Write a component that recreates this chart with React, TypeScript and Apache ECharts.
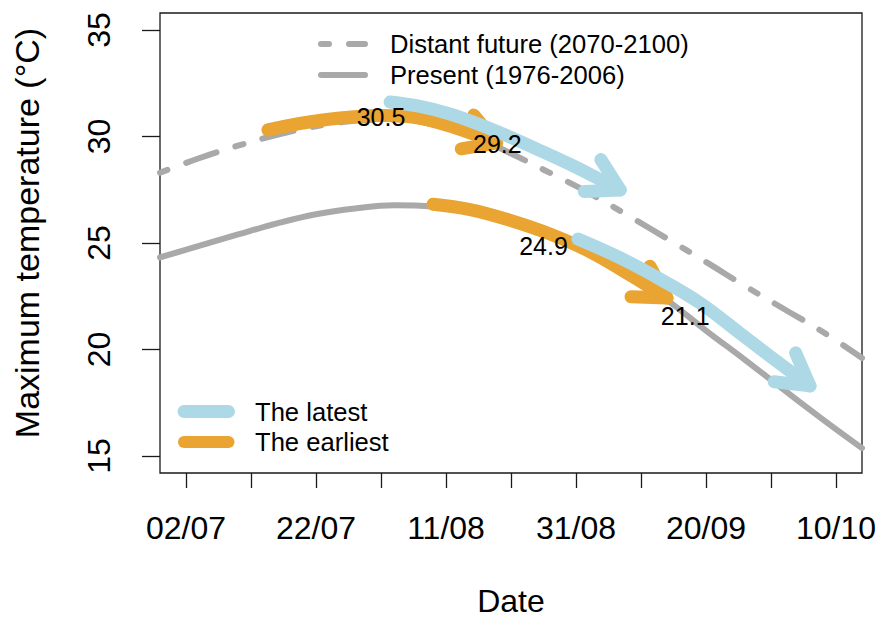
import React, { useEffect, useRef } from "react";
import * as echarts from "echarts";

const FONT = '"Liberation Sans", Arial, Helvetica, sans-serif';
const GRAY = "#A9A9A9";
const BLUE = "#ADD8E6";
const ORANGE = "#E9A431";

// x values are days counted from 02/07
const tickDays = [0, 10, 20, 30, 40, 50, 60, 70, 80, 90, 100];
const labelDays = [0, 20, 40, 60, 80, 100];
const dateLabels = ["02/07", "22/07", "11/08", "31/08", "20/09", "10/10"];
const tempTicks = [15, 20, 25, 30, 35];

const curveDays = [-4, 2, 8, 14, 20, 26, 32, 38, 44, 50, 56, 62, 68, 74, 80, 86, 92, 98, 104];
const presentTemps = [24.32, 24.86, 25.4, 25.92, 26.35, 26.62, 26.77, 26.71, 26.43, 25.98, 25.33, 24.51, 23.5, 22.32, 20.89, 19.51, 18.1, 16.71, 15.37];
const futureTemps = [28.3, 28.98, 29.57, 30.08, 30.48, 30.74, 30.8, 30.57, 30.05, 29.2, 28.29, 27.35, 26.29, 25.21, 24.11, 22.98, 21.9, 20.82, 19.6];

const earliestFutureDays = [12.6, 17.5, 23.7, 29.8, 34.5, 39.1, 43.7, 47.8];
const earliestFutureTemps = [30.31, 30.61, 30.87, 30.99, 30.92, 30.63, 30.17, 29.7];
const latestFutureDays = [31.4, 36.0, 40.6, 45.2, 49.8, 54.5, 59.1, 63.4, 66.8];
const latestFutureTemps = [31.62, 31.41, 31.06, 30.56, 29.98, 29.34, 28.69, 28.03, 27.49];
const earliestPresentDays = [38.0, 43.7, 49.8, 56.0, 62.2, 68.3, 74.0];
const earliestPresentTemps = [26.82, 26.57, 26.07, 25.42, 24.58, 23.5, 22.42];
const latestPresentDays = [60.3, 66.8, 72.9, 79.1, 85.2, 90.6, 96.0];
const latestPresentTemps = [25.19, 24.3, 23.31, 22.18, 20.77, 19.51, 18.29];

const annotationText = ["30.5", "29.2", "24.9", "21.1"];
const annotationDays = [30, 47.9, 55, 76.8];
const annotationTemps = [30.94, 29.65, 24.86, 21.57];

const zip = (a: number[], b: number[]) => a.map((v, i) => [v, b[i]]);

function arrowSeries(name: string, days: number[], temps: number[], color: string, z: number) {
  const pts = zip(days, temps);
  return {
    type: "custom",
    name,
    coordinateSystem: "cartesian2d",
    data: [pts[0]],
    encode: { x: 0, y: 1 },
    silent: true,
    z,
    renderItem: (_params: any, api: any) => {
      const px = pts.map((p) => api.coord(p));
      const n = px.length;
      const [tx, ty] = px[n - 1];
      const [sx, sy] = px[n - 2];
      const ang = Math.atan2(ty - sy, tx - sx) + Math.PI;
      const L = 36;
      const a = Math.PI / 6;
      const h1 = [tx + L * Math.cos(ang - a), ty + L * Math.sin(ang - a)];
      const h2 = [tx + L * Math.cos(ang + a), ty + L * Math.sin(ang + a)];
      const st = { stroke: color, lineWidth: 13, lineCap: "round", lineJoin: "round", fill: "none" };
      return {
        type: "group",
        children: [
          { type: "polyline", shape: { points: px, smooth: 0.4 }, style: st },
          { type: "polyline", shape: { points: [h1, [tx, ty], h2] }, style: st },
        ],
      };
    },
  };
}

export default function App() {
  const ref = useRef<HTMLDivElement>(null);
  useEffect(() => {
    if (!ref.current) return;
    const chart = echarts.init(ref.current, undefined, { renderer: "svg" });
    const option: any = {
      animation: false,
      textStyle: { fontFamily: FONT, color: "#000" },
      grid: {
        left: 160,
        right: 15,
        top: 13,
        bottom: 145,
        containLabel: false,
        outerBoundsMode: "none",
        show: true,
        borderColor: "#1a1a1a",
        borderWidth: 1.3,
        backgroundColor: "transparent",
      },
      xAxis: {
        type: "value",
        min: -4,
        max: 104,
        name: "Date",
        nameLocation: "middle",
        nameGap: 112,
        nameTextStyle: { fontSize: 32, fontFamily: FONT, color: "#000" },
        axisLine: { show: false, onZero: false },
        splitLine: { show: false },
        axisTick: {
          show: true,
          customValues: tickDays,
          length: 15,
          inside: false,
          lineStyle: { color: "#1a1a1a", width: 1.3 },
        },
        axisLabel: {
          customValues: labelDays,
          margin: 39,
          fontSize: 32,
          fontFamily: FONT,
          color: "#000",
          formatter: (v: number) => dateLabels[labelDays.indexOf(Math.round(v))] ?? "",
        },
      },
      yAxis: {
        type: "value",
        min: 14.2,
        max: 35.8,
        name: "Maximum temperature (°C)",
        nameLocation: "middle",
        nameGap: 116,
        nameTextStyle: { fontSize: 34, fontFamily: FONT, color: "#000", padding: [0, 0, 0, 20] },
        axisLine: { show: false, onZero: false },
        splitLine: { show: false },
        axisTick: {
          show: true,
          customValues: tempTicks,
          length: 18,
          inside: false,
          lineStyle: { color: "#1a1a1a", width: 1.3 },
        },
        axisLabel: {
          customValues: tempTicks,
          rotate: 90,
          margin: 45,
          fontSize: 32,
          fontFamily: FONT,
          color: "#000",
        },
      },
      series: [
        {
          type: "line",
          name: "Distant future (2070-2100)",
          data: zip(curveDays, futureTemps),
          smooth: 0.4,
          showSymbol: false,
          symbol: "none",
          silent: true,
          z: 2,
          lineStyle: { color: GRAY, width: 6, type: [8, 20, 32, 20], cap: "round" },
        },
        {
          type: "line",
          name: "Present (1976-2006)",
          data: zip(curveDays, presentTemps),
          smooth: 0.4,
          showSymbol: false,
          symbol: "none",
          silent: true,
          z: 2,
          lineStyle: { color: GRAY, width: 6, cap: "round" },
        },
        arrowSeries("The earliest (future)", earliestFutureDays, earliestFutureTemps, ORANGE, 3),
        arrowSeries("The earliest (present)", earliestPresentDays, earliestPresentTemps, ORANGE, 3),
        arrowSeries("The latest (future)", latestFutureDays, latestFutureTemps, BLUE, 4),
        arrowSeries("The latest (present)", latestPresentDays, latestPresentTemps, BLUE, 4),
        {
          type: "custom",
          name: "values",
          coordinateSystem: "cartesian2d",
          data: annotationDays.map((d, i) => [d, annotationTemps[i], i]),
          encode: { x: 0, y: 1 },
          silent: true,
          z: 10,
          renderItem: (_p: any, api: any) => {
            const c = api.coord([api.value(0), api.value(1)]);
            return {
              type: "text",
              x: c[0],
              y: c[1],
              z2: 100,
              style: {
                text: annotationText[api.value(2)],
                fontSize: 25,
                fontFamily: FONT,
                fill: "#000",
                align: "center",
                verticalAlign: "middle",
              },
            };
          },
        },
      ],
      graphic: [
        {
          type: "line",
          shape: { x1: 321, y1: 44, x2: 365, y2: 44 },
          style: { stroke: GRAY, lineWidth: 6, lineCap: "round", lineDash: [8, 20, 32, 20] },
        },
        {
          type: "line",
          shape: { x1: 321, y1: 75, x2: 365, y2: 75 },
          style: { stroke: GRAY, lineWidth: 6, lineCap: "round" },
        },
        {
          type: "text",
          x: 390,
          y: 44,
          style: { text: "Distant future (2070-2100)", fontSize: 25.6, fontFamily: FONT, fill: "#000", align: "left", verticalAlign: "middle" },
        },
        {
          type: "text",
          x: 390,
          y: 75,
          style: { text: "Present (1976-2006)", fontSize: 25.6, fontFamily: FONT, fill: "#000", align: "left", verticalAlign: "middle" },
        },
        {
          type: "line",
          shape: { x1: 184, y1: 411.5, x2: 228.5, y2: 411.5 },
          style: { stroke: BLUE, lineWidth: 13, lineCap: "round" },
        },
        {
          type: "line",
          shape: { x1: 184, y1: 442, x2: 228.5, y2: 442 },
          style: { stroke: ORANGE, lineWidth: 12, lineCap: "round" },
        },
        {
          type: "text",
          x: 255,
          y: 411.5,
          style: { text: "The latest", fontSize: 25.6, fontFamily: FONT, fill: "#000", align: "left", verticalAlign: "middle" },
        },
        {
          type: "text",
          x: 255,
          y: 442,
          style: { text: "The earliest", fontSize: 25.6, fontFamily: FONT, fill: "#000", align: "left", verticalAlign: "middle" },
        },
      ],
    };
    chart.setOption(option);
    return () => chart.dispose();
  }, []);
  return (
    <div
      ref={ref}
      style={{ position: "absolute", left: 0, top: 0, width: 877, height: 618, background: "#fff" }}
    />
  );
}
